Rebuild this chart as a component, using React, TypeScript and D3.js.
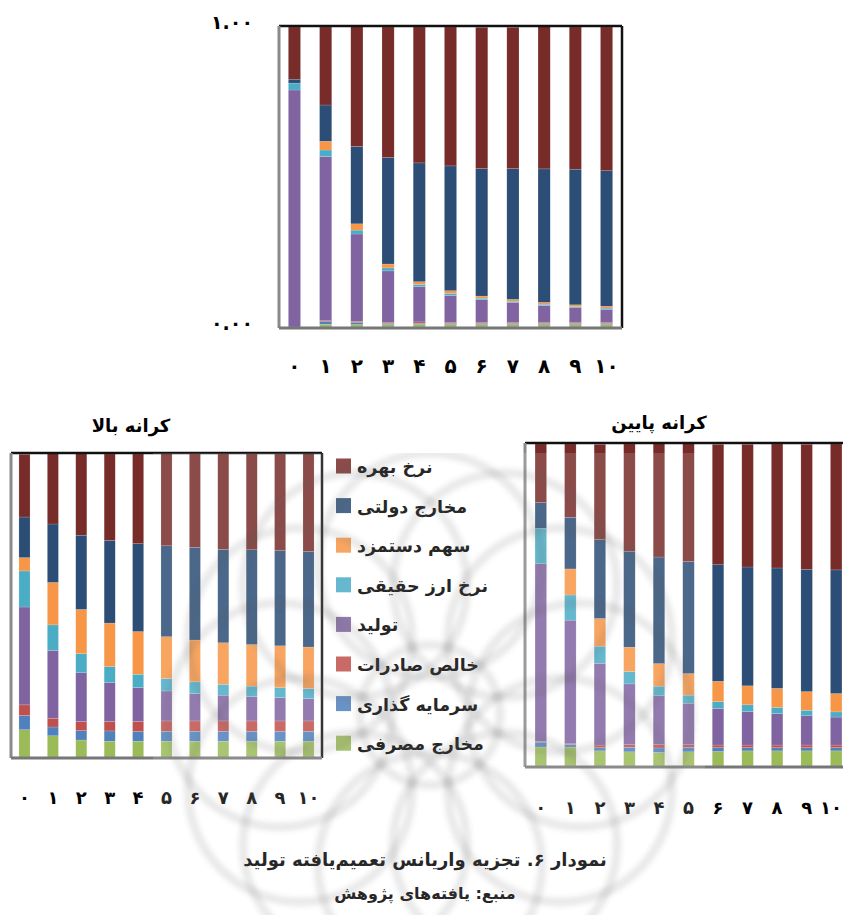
import React from "react";
import * as d3 from "d3";

// Period labels (Persian digits)
const periods = ["۰", "۱", "۲", "۳", "۴", "۵", "۶", "۷", "۸", "۹", "۱۰"];

// Shock names, stacked bottom → top
const seriesKeys = ["cons", "inv", "netx", "output", "rer", "wage", "gov", "rate"];
const seriesNames: Record<string, string> = {
  rate: "نرخ بهره",
  gov: "مخارج دولتی",
  wage: "سهم دستمزد",
  rer: "نرخ ارز حقیقی",
  output: "تولید",
  netx: "خالص صادرات",
  inv: "سرمایه گذاری",
  cons: "مخارج مصرفی",
};
const seriesColors: Record<string, string> = {
  cons: "#9BBB59",
  inv: "#4F81BD",
  netx: "#C0504D",
  output: "#8064A2",
  rer: "#4BACC6",
  wage: "#F79646",
  gov: "#2C4D75",
  rate: "#772C2A",
};
const legendOrder = ["rate", "gov", "wage", "rer", "output", "netx", "inv", "cons"];

// Point estimate of the generalized variance decomposition of output
const midCons = [0, 0.009, 0.008, 0.008, 0.008, 0.008, 0.008, 0.008, 0.008, 0.008, 0.008];
const midInv = [0, 0.009, 0.007, 0.004, 0.004, 0.004, 0.004, 0.004, 0.004, 0.004, 0.004];
const midNetx = [0, 0.003, 0.004, 0.004, 0.005, 0.004, 0.004, 0.004, 0.004, 0.004, 0.004];
const midOutput = [0.79, 0.547, 0.291, 0.171, 0.118, 0.089, 0.075, 0.066, 0.056, 0.048, 0.043];
const midRer = [0.023, 0.022, 0.013, 0.01, 0.007, 0.007, 0.005, 0.004, 0.004, 0.004, 0.004];
const midWage = [0, 0.029, 0.021, 0.013, 0.009, 0.009, 0.007, 0.006, 0.006, 0.006, 0.006];
const midGov = [0.013, 0.121, 0.258, 0.355, 0.396, 0.416, 0.425, 0.436, 0.445, 0.452, 0.452];
const midRate = [0.174, 0.26, 0.399, 0.435, 0.453, 0.463, 0.471, 0.471, 0.474, 0.474, 0.479];

// Upper bound
const upCons = [0.09, 0.07, 0.056, 0.052, 0.052, 0.052, 0.052, 0.052, 0.052, 0.052, 0.052];
const upInv = [0.047, 0.029, 0.031, 0.034, 0.032, 0.033, 0.033, 0.033, 0.033, 0.033, 0.033];
const upNetx = [0.035, 0.029, 0.03, 0.031, 0.033, 0.034, 0.034, 0.034, 0.034, 0.034, 0.034];
const upOutput = [0.323, 0.224, 0.161, 0.129, 0.112, 0.099, 0.09, 0.085, 0.08, 0.077, 0.074];
const upRer = [0.119, 0.084, 0.063, 0.052, 0.044, 0.041, 0.039, 0.036, 0.035, 0.033, 0.033];
const upWage = [0.044, 0.14, 0.146, 0.144, 0.141, 0.138, 0.138, 0.137, 0.137, 0.138, 0.137];
const upGov = [0.134, 0.193, 0.245, 0.273, 0.29, 0.3, 0.306, 0.308, 0.313, 0.314, 0.315];
const upRate = [0.207, 0.232, 0.269, 0.285, 0.296, 0.304, 0.308, 0.315, 0.316, 0.319, 0.323];

// Lower bound
const lowCons = [0.059, 0.059, 0.047, 0.044, 0.042, 0.044, 0.045, 0.047, 0.047, 0.047, 0.047];
const lowInv = [0.015, 0.008, 0.01, 0.014, 0.014, 0.014, 0.012, 0.01, 0.01, 0.01, 0.01];
const lowNetx = [0.002, 0.002, 0.008, 0.008, 0.01, 0.008, 0.008, 0.008, 0.008, 0.008, 0.008];
const lowOutput = [0.552, 0.384, 0.254, 0.189, 0.152, 0.129, 0.114, 0.104, 0.098, 0.091, 0.087];
const lowRer = [0.11, 0.078, 0.053, 0.038, 0.03, 0.025, 0.021, 0.021, 0.019, 0.017, 0.016];
const lowWage = [0, 0.081, 0.086, 0.076, 0.07, 0.067, 0.063, 0.059, 0.059, 0.058, 0.057];
const lowGov = [0.08, 0.16, 0.245, 0.298, 0.331, 0.348, 0.362, 0.369, 0.374, 0.38, 0.384];
const lowRate = [0.182, 0.228, 0.296, 0.333, 0.352, 0.366, 0.374, 0.381, 0.385, 0.388, 0.391];

const yTickLabels = ["۰.۰۰", "۱.۰۰"];

const titleUpper = "کرانه بالا";
const titleLower = "کرانه پایین";
const caption = "نمودار ۶. تجزیه واریانس تعمیم‌یافته تولید";
const source = "منبع: یافته‌های پژوهش";

type Row = Record<string, number | string>;

function buildRows(cols: Record<string, number[]>): Row[] {
  return periods.map((p, i) => {
    const r: Row = { period: p };
    seriesKeys.forEach((k) => (r[k] = cols[k][i]));
    return r;
  });
}

const midRows = buildRows({
  cons: midCons, inv: midInv, netx: midNetx, output: midOutput,
  rer: midRer, wage: midWage, gov: midGov, rate: midRate,
});
const upRows = buildRows({
  cons: upCons, inv: upInv, netx: upNetx, output: upOutput,
  rer: upRer, wage: upWage, gov: upGov, rate: upRate,
});
const lowRows = buildRows({
  cons: lowCons, inv: lowInv, netx: lowNetx, output: lowOutput,
  rer: lowRer, wage: lowWage, gov: lowGov, rate: lowRate,
});

const FONT = "'DejaVu Sans', sans-serif";
const PAGE_W = 843;

interface PanelProps {
  rows: Row[];
  left: number;
  right: number;
  top: number;
  bottom: number;
  padOuter: number;
  labelY: number;
  labelSize: number;
}

function Panel({ rows, left, right, top, bottom, padOuter, labelY, labelSize }: PanelProps) {
  const x = d3
    .scaleBand<string>()
    .domain(periods)
    .range([left, right])
    .paddingInner(0.61)
    .paddingOuter(padOuter);
  const y = d3.scaleLinear().domain([0, 1]).range([bottom - 1, top + 1]);
  const stacked = d3.stack<Row>().keys(seriesKeys).value((d, k) => d[k] as number)(rows);

  return (
    <g>
      {stacked.map((layer) => (
        <g key={layer.key} fill={seriesColors[layer.key]}>
          {layer.map((seg, i) => {
            const h = y(seg[0]) - y(seg[1]);
            if (h <= 0) return null;
            return (
              <rect
                key={i}
                x={x(periods[i])}
                y={y(seg[1])}
                width={x.bandwidth()}
                height={h}
                stroke="rgba(255,255,255,0.3)"
                strokeWidth={0.5}
              />
            );
          })}
        </g>
      ))}
      {/* plot frame: grey left/bottom axes, black top/right */}
      <line x1={left} x2={right} y1={top} y2={top} stroke="#111" strokeWidth={2.5} />
      <line x1={right} x2={right} y1={top} y2={bottom} stroke="#111" strokeWidth={2.5} />
      <line x1={left} x2={left} y1={top} y2={bottom} stroke="#8a8a8a" strokeWidth={3} />
      <line x1={left} x2={right} y1={bottom} y2={bottom} stroke="#777" strokeWidth={3} />
      {periods.map((p) => {
        const cx = (x(p) as number) + x.bandwidth() / 2;
        // keep the last label inside the page edge
        const nearEdge = cx + labelSize * 0.6 > PAGE_W;
        return (
          <text
            key={p}
            x={nearEdge ? PAGE_W - 1 : cx}
            y={labelY}
            textAnchor={nearEdge ? "end" : "middle"}
            fontFamily={FONT}
            fontWeight="bold"
            fontSize={labelSize}
            fill="#000"
          >
            {p}
          </text>
        );
      })}
    </g>
  );
}

function Watermark() {
  const cx = 430;
  const cy = 715;
  const n = 12;
  const ring = 150;
  const r = 112;
  const petals = d3.range(n).map((i) => {
    const a = (i / n) * Math.PI * 2;
    return { x: cx + ring * Math.cos(a), y: cy + ring * Math.sin(a) };
  });
  return (
    <g>
      <defs>
        <clipPath id="wm-clip">
          <rect x={153} y={453} width={552} height={470} />
        </clipPath>
        <filter id="wm-soft">
          <feGaussianBlur stdDeviation={2} />
        </filter>
      </defs>
      <rect x={153} y={453} width={552} height={470} fill="#fff" opacity={0.15} />
      <g clipPath="url(#wm-clip)" fill="none" stroke="#505050" strokeOpacity={0.12} strokeWidth={9} filter="url(#wm-soft)">
        {petals.map((p, i) => (
          <circle key={i} cx={p.x} cy={p.y} r={r} />
        ))}
        <circle cx={cx} cy={cy} r={70} />
      </g>
    </g>
  );
}

export default function App() {
  const W = PAGE_W;
  const H = 915;
  return (
    <svg
      width={W}
      height={H}
      viewBox={`0 0 ${W} ${H}`}
      style={{ position: "absolute", left: 0, top: 0, background: "#fff" }}
    >
      <rect width={W} height={H} fill="#fff" />

      {/* main panel */}
      <Panel rows={midRows} left={279} right={622} top={26} bottom={328} padOuter={0.3} labelY={373} labelSize={20} />
      {yTickLabels.map((t, i) => (
        <text
          key={t}
          x={253}
          y={i === 0 ? 330 : 29}
          textAnchor="end"
          fontFamily={FONT}
          fontWeight="bold"
          fontSize={19}
        >
          {t}
        </text>
      ))}

      {/* upper bound panel */}
      <text x={131} y={432} textAnchor="middle" fontFamily={FONT} fontWeight="bold" fontSize={18} direction="rtl">
        {titleUpper}
      </text>
      <Panel rows={upRows} left={11} right={322} top={453} bottom={758} padOuter={0.28} labelY={804} labelSize={18} />

      {/* lower bound panel */}
      <text x={659} y={429} textAnchor="middle" fontFamily={FONT} fontWeight="bold" fontSize={18} direction="rtl">
        {titleLower}
      </text>
      <Panel rows={lowRows} left={525} right={852} top={443} bottom={767} padOuter={0.34} labelY={814} labelSize={18} />

      {/* legend */}
      {legendOrder.map((k, i) => {
        const cy = 466 + i * 39.6;
        return (
          <g key={k}>
            <rect x={336} y={cy - 7.5} width={15} height={15} fill={seriesColors[k]} />
            <text x={357} y={cy + 7} fontFamily={FONT} fontWeight="bold" fontSize={17.5}>
              {seriesNames[k]}
            </text>
          </g>
        );
      })}

      {/* captions */}
      <text x={425} y={866} textAnchor="middle" fontFamily={FONT} fontWeight="bold" fontSize={18} direction="rtl">
        {caption}
      </text>
      <text x={425} y={899} textAnchor="middle" fontFamily={FONT} fontWeight="bold" fontSize={16} direction="rtl">
        {source}
      </text>

      <Watermark />
    </svg>
  );
}
